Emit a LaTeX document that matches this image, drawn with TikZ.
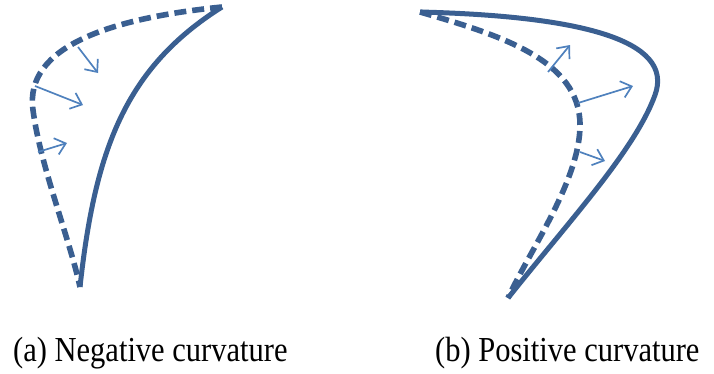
\documentclass[tikz,border=0pt]{standalone}
\usepackage{fontspec}
\setmainfont{Liberation Serif}
\usepackage{xcolor}
\usetikzlibrary{arrows.meta}
\definecolor{curvedark}{HTML}{3A5F91}
\definecolor{curvelight}{HTML}{4F81BD}
\tikzstyle{front}=[draw=curvedark, line width=5pt]
\tikzstyle{oldfront}=[draw=curvedark, line width=5.6pt, dash pattern=on 12pt off 6pt]
\tikzstyle{move}=[draw=curvelight, line width=1.7pt, -{Straight Barb[length=10pt,width=17pt,line width=1.7pt]}]
\tikzstyle{caption}=[anchor=base west, inner sep=0pt, font=\fontsize{30.5}{36}\selectfont, yscale=1.15]

\begin{document}
\begin{tikzpicture}[x=1pt, y=-1pt]
\useasboundingbox (0,0) rectangle (714,373);
% (a) negative curvature
\coordinate (atop) at (222,7);
\coordinate (abot) at (80,287);
\coordinate (aleft) at (33,110);
\draw[front] (abot) .. controls (95,150) and (125,68) .. (atop);
\draw[oldfront] (atop) .. controls (112,18) and (24,46) .. (aleft) .. controls (40,165) and (70,240) .. (abot);
\coordinate (a1s) at (78,47);  \coordinate (a1e) at (98,73);
\coordinate (a2s) at (35,86);  \coordinate (a2e) at (83,105);
\coordinate (a3s) at (38,152); \coordinate (a3e) at (67,143);
\draw[move] (a1s) -- (a1e);
\draw[move] (a2s) -- (a2e);
\draw[move] (a3s) -- (a3e);
% (b) positive curvature
\coordinate (btop) at (420,12);
\coordinate (bbot) at (508,298);
\coordinate (bright) at (655,95);
\coordinate (binner) at (580,125);
\draw[front] (btop) .. controls (580,16) and (675,40) .. (bright) .. controls (635,150) and (570,220) .. (bbot);
\draw[oldfront] (btop) .. controls (500,35) and (580,60) .. (binner) .. controls (580,180) and (530,250) .. (bbot);
\coordinate (b1s) at (548,72);  \coordinate (b1e) at (570,45);
\coordinate (b2s) at (578,103); \coordinate (b2e) at (633,86);
\coordinate (b3s) at (580,152); \coordinate (b3e) at (605,161);
\draw[move] (b1s) -- (b1e);
\draw[move] (b2s) -- (b2e);
\draw[move] (b3s) -- (b3e);
% captions
\node (capa) [caption] at (13,361) {(a) Negative curvature};
\node (capb) [caption] at (435,361) {(b) Positive curvature};
\end{tikzpicture}
\end{document}
